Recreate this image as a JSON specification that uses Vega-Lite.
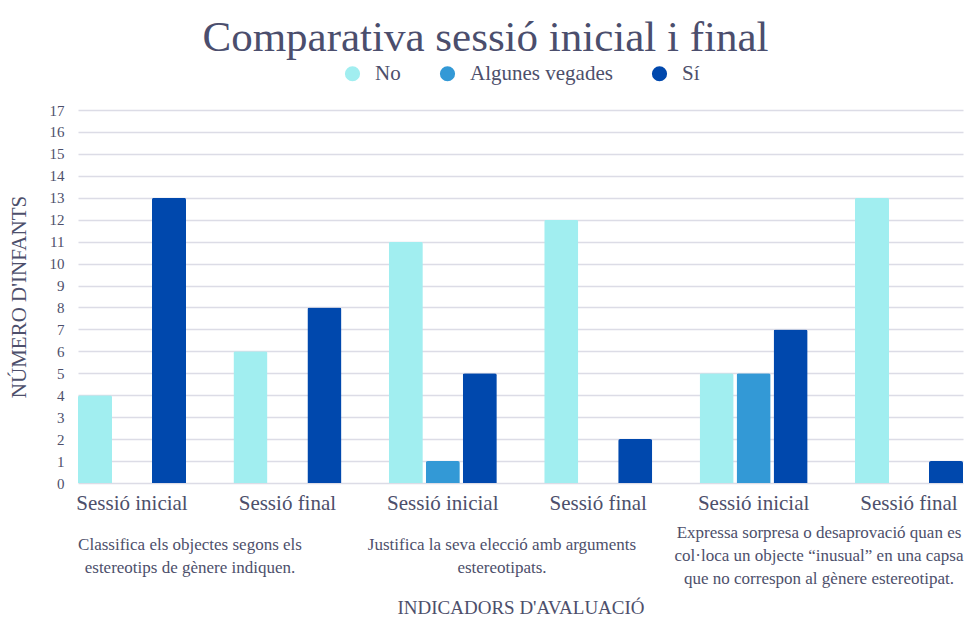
{
  "$schema": "https://vega.github.io/schema/vega-lite/v6.json",
  "width": 885,
  "height": 373,
  "padding": {"left": 8, "top": 17, "right": 12, "bottom": 0},
  "background": "white",
  "title": {
    "text": "Comparativa sessió inicial i final",
    "font": "'Liberation Serif', 'DejaVu Serif', serif",
    "fontSize": 43,
    "fontWeight": "normal",
    "color": "#4b4e6d",
    "anchor": "middle",
    "frame": "bounds",
    "offset": 3
  },
  "config": {
    "view": {"stroke": null},
    "font": "'Liberation Serif', 'DejaVu Serif', serif",
    "axis": {"labelFont": "'Liberation Serif', 'DejaVu Serif', serif", "titleFont": "'Liberation Serif', 'DejaVu Serif', serif", "labelColor": "#4d4f6b", "titleColor": "#4d4f6b", "titleFontWeight": "normal"},
    "legend": {"labelFont": "'Liberation Serif', 'DejaVu Serif', serif", "layout": {"top": {"anchor": "middle"}}}
  },
  "data": {
    "values": [
      {"indicador": "Classifica els objectes segons els\nestereotips de gènere indiquen.", "columna": "1 · Sessió inicial", "resposta": "No", "infants": 4},
      {"indicador": "Classifica els objectes segons els\nestereotips de gènere indiquen.", "columna": "1 · Sessió inicial", "resposta": "Algunes vegades", "infants": 0},
      {"indicador": "Classifica els objectes segons els\nestereotips de gènere indiquen.", "columna": "1 · Sessió inicial", "resposta": "Sí", "infants": 13},
      {"indicador": "Classifica els objectes segons els\nestereotips de gènere indiquen.", "columna": "1 · Sessió final", "resposta": "No", "infants": 6},
      {"indicador": "Classifica els objectes segons els\nestereotips de gènere indiquen.", "columna": "1 · Sessió final", "resposta": "Algunes vegades", "infants": 0},
      {"indicador": "Classifica els objectes segons els\nestereotips de gènere indiquen.", "columna": "1 · Sessió final", "resposta": "Sí", "infants": 8},
      {"indicador": "Justifica la seva elecció amb arguments\nestereotipats.", "columna": "2 · Sessió inicial", "resposta": "No", "infants": 11},
      {"indicador": "Justifica la seva elecció amb arguments\nestereotipats.", "columna": "2 · Sessió inicial", "resposta": "Algunes vegades", "infants": 1},
      {"indicador": "Justifica la seva elecció amb arguments\nestereotipats.", "columna": "2 · Sessió inicial", "resposta": "Sí", "infants": 5},
      {"indicador": "Justifica la seva elecció amb arguments\nestereotipats.", "columna": "2 · Sessió final", "resposta": "No", "infants": 12},
      {"indicador": "Justifica la seva elecció amb arguments\nestereotipats.", "columna": "2 · Sessió final", "resposta": "Algunes vegades", "infants": 0},
      {"indicador": "Justifica la seva elecció amb arguments\nestereotipats.", "columna": "2 · Sessió final", "resposta": "Sí", "infants": 2},
      {"indicador": "Expressa sorpresa o desaprovació quan es\ncol·loca un objecte “inusual” en una capsa\nque no correspon al gènere estereotipat.", "columna": "3 · Sessió inicial", "resposta": "No", "infants": 5},
      {"indicador": "Expressa sorpresa o desaprovació quan es\ncol·loca un objecte “inusual” en una capsa\nque no correspon al gènere estereotipat.", "columna": "3 · Sessió inicial", "resposta": "Algunes vegades", "infants": 5},
      {"indicador": "Expressa sorpresa o desaprovació quan es\ncol·loca un objecte “inusual” en una capsa\nque no correspon al gènere estereotipat.", "columna": "3 · Sessió inicial", "resposta": "Sí", "infants": 7},
      {"indicador": "Expressa sorpresa o desaprovació quan es\ncol·loca un objecte “inusual” en una capsa\nque no correspon al gènere estereotipat.", "columna": "3 · Sessió final", "resposta": "No", "infants": 13},
      {"indicador": "Expressa sorpresa o desaprovació quan es\ncol·loca un objecte “inusual” en una capsa\nque no correspon al gènere estereotipat.", "columna": "3 · Sessió final", "resposta": "Algunes vegades", "infants": 0},
      {"indicador": "Expressa sorpresa o desaprovació quan es\ncol·loca un objecte “inusual” en una capsa\nque no correspon al gènere estereotipat.", "columna": "3 · Sessió final", "resposta": "Sí", "infants": 1}
    ]
  },
  "layer": [
    {
      "mark": {"type": "bar", "cornerRadiusEnd": 2},
      "encoding": {
        "x": {
          "field": "columna",
          "type": "nominal",
          "sort": ["1 · Sessió inicial", "1 · Sessió final", "2 · Sessió inicial", "2 · Sessió final", "3 · Sessió inicial", "3 · Sessió final"],
          "scale": {"paddingInner": 0.305, "paddingOuter": 0},
          "axis": {
            "orient": "bottom",
            "title": null,
            "labelExpr": "split(datum.label, ' · ')[1]",
            "labelAngle": 0,
            "domain": false,
            "ticks": false,
            "labelFontSize": 21,
            "labelPadding": 9
          }
        },
        "xOffset": {
          "field": "resposta",
          "type": "nominal",
          "sort": ["No", "Algunes vegades", "Sí"],
          "scale": {"paddingInner": 0.08, "paddingOuter": 0}
        },
        "y": {
          "field": "infants",
          "type": "quantitative",
          "scale": {"domain": [0, 17], "nice": false},
          "axis": {
            "values": [0, 1, 2, 3, 4, 5, 6, 7, 8, 9, 10, 11, 12, 13, 14, 15, 16, 17],
            "title": "NÚMERO D'INFANTS",
            "titleFontSize": 21,
            "titlePadding": 20,
            "labelFontSize": 15,
            "labelPadding": 14,
            "domain": false,
            "ticks": false,
            "gridColor": "#dcdce6",
            "gridWidth": 1.5
          }
        },
        "color": {
          "field": "resposta",
          "type": "nominal",
          "sort": ["No", "Algunes vegades", "Sí"],
          "scale": {"domain": ["No", "Algunes vegades", "Sí"], "range": ["#a1eef0", "#3399d6", "#0048ad"]},
          "legend": {
            "orient": "top",
            "direction": "horizontal",
            "title": null,
            "symbolType": "circle",
            "symbolSize": 230,
            "symbolStrokeWidth": 0,
            "labelFontSize": 21,
            "labelColor": "#4d4f6b",
            "labelOffset": 12,
            "columnPadding": 36,
            "offset": 26
          }
        }
      }
    },
    {
      "mark": {"type": "text", "text": ""},
      "encoding": {
        "x": {
          "field": "indicador",
          "type": "nominal",
          "sort": null,
          "scale": {"paddingInner": 0, "paddingOuter": 0},
          "axis": {
            "orient": "bottom",
            "offset": 36,
            "title": "INDICADORS D'AVALUACIÓ",
            "titleFontSize": 19,
            "titlePadding": 12,
            "labelExpr": "split(datum.label, '\\n')",
            "labelAngle": 0,
            "labelLimit": 400,
            "labelFontSize": 17,
            "labelLineHeight": 23,
            "labelPadding": {"condition": {"test": "indexof(datum.value, 'Expressa') == 0", "value": 5}, "value": 17},
            "labelOffset": {"condition": [
              {"test": "indexof(datum.value, 'Classifica') == 0", "value": -36},
              {"test": "indexof(datum.value, 'Justifica') == 0", "value": -19}
            ], "value": 3},
            "labelBaseline": "top",
            "domain": false,
            "ticks": false,
            "grid": false
          }
        }
      }
    }
  ],
  "resolve": {"scale": {"x": "independent", "color": "shared"}, "axis": {"x": "independent"}}
}
